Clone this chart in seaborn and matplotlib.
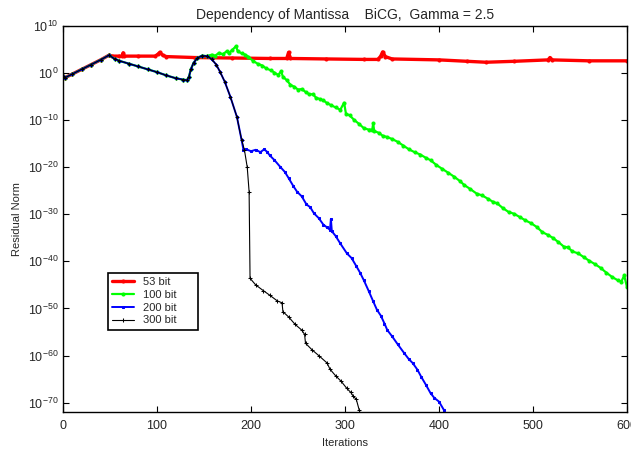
import numpy as np
import pandas as pd
import matplotlib
matplotlib.use("Agg")
import matplotlib.pyplot as plt
from matplotlib.ticker import LogFormatterMathtext, NullLocator
import seaborn as sns

# values (iteration, log10 of residual norm)
rise_iters = [0, 2, 10, 20, 30, 40, 49]
rise_exps = [-0.6, -1.0, -0.2, 0.8, 1.8, 2.8, 3.8]

dip_iters = [55, 60, 70, 80, 90, 100, 110, 120, 128, 132, 134, 136, 139, 143, 148, 153]
dip_exps = [3.0, 2.6, 2.0, 1.4, 0.8, 0.2, -0.5, -1.1, -1.4, -1.5, -0.8, 0.8, 2.2, 3.2, 3.7, 3.6]

fall_iters = [158, 163, 167, 172, 178, 185, 190]
fall_exps = [3.0, 1.8, 0.3, -1.8, -5.0, -9.3, -14.2]

red_tail_iters = [52, 60, 63, 64, 65, 80, 98, 101, 103, 106, 110, 140, 180, 220, 238, 240, 242,
                  280, 320, 335, 338, 340, 343, 350, 400, 430, 450, 480, 516, 518, 520, 560, 600]
red_tail_exps = [3.6, 3.6, 3.6, 4.3, 3.6, 3.6, 3.6, 4.0, 4.4, 3.8, 3.5, 3.3, 3.2, 3.1, 3.1, 4.4, 3.1,
                 3.0, 2.9, 2.9, 3.6, 4.5, 3.5, 3.0, 2.8, 2.5, 2.3, 2.5, 2.8, 3.3, 2.8, 2.6, 2.6]

green_tail_iters = [155, 158, 162, 166, 170, 174, 177, 180, 184, 186, 190, 194, 197, 202, 207, 212,
                    216, 221, 225, 229, 232, 234, 238, 242, 246, 250, 254, 258, 262, 266, 269, 273,
                    277, 281, 285, 290, 295, 299, 301, 305, 310, 315, 320, 325, 329, 330, 331, 336,
                    340, 345, 350, 356, 362, 368, 374, 380, 386, 391, 397, 403, 410, 416, 422, 427,
                    433, 440, 446, 452, 457, 462, 468, 474, 480, 486, 492, 498, 504, 510, 516, 521,
                    527, 533, 537, 542, 548, 554, 560, 566, 572, 578, 584, 590, 594, 597, 600]
green_tail_exps = [3.7, 3.9, 3.7, 4.3, 4.0, 4.6, 4.3, 4.9, 5.7, 4.6, 4.2, 3.9, 3.5, 2.6, 2.0, 1.6,
                   1.0, 0.6, 0.1, -0.4, 0.4, -0.8, -1.5, -2.5, -2.9, -3.5, -3.4, -4.0, -4.5, -4.5,
                   -5.2, -5.5, -5.8, -6.4, -6.8, -7.3, -7.8, -6.3, -8.6, -9.0, -10.0, -10.8, -11.7,
                   -12.0, -12.0, -10.7, -12.3, -12.7, -13.3, -13.6, -14.0, -14.6, -15.4, -16.2,
                   -16.8, -17.3, -18.0, -18.5, -19.5, -20.3, -21.2, -22.0, -22.9, -23.8, -24.6,
                   -25.6, -26.0, -26.7, -27.3, -27.7, -28.7, -29.5, -29.9, -30.6, -31.3, -31.9,
                   -32.7, -33.8, -34.4, -35.0, -35.9, -36.9, -37.0, -37.9, -38.3, -39.1, -39.9,
                   -40.6, -41.4, -42.4, -43.3, -44.0, -44.3, -43.0, -45.5]

blue_tail_iters = [192, 195, 200, 205, 210, 214, 217, 220, 225, 231, 236, 240, 245, 249, 254, 259,
                   263, 267, 272, 277, 281, 284, 285, 286, 290, 295, 302, 307, 312, 316, 320, 325,
                   330, 334, 338, 342, 345, 350, 356, 363, 368, 372, 377, 381, 386, 391, 395, 400,
                   405, 407]
blue_tail_exps = [-16.3, -16.2, -16.6, -16.3, -16.8, -16.2, -16.7, -17.5, -18.5, -19.9, -21.0,
                  -22.3, -24.0, -25.2, -26.2, -27.9, -28.5, -29.8, -30.8, -32.2, -32.8, -33.3,
                  -31.0, -33.6, -34.6, -36.2, -38.3, -39.3, -41.0, -42.4, -44.0, -46.2, -48.5,
                  -50.3, -51.5, -53.2, -54.6, -55.9, -57.6, -59.5, -60.8, -61.6, -63.0, -64.5,
                  -66.2, -68.0, -69.0, -69.8, -71.5, -73.0]

black_tail_iters = [193, 196, 198, 199, 205, 213, 220, 228, 233, 234, 240, 247, 254, 257, 258, 265,
                    272, 281, 284, 290, 296, 302, 306, 309, 312, 315, 317]
black_tail_exps = [-16.3, -20.0, -25.2, -43.6, -45.0, -46.2, -47.2, -48.4, -48.8, -50.7, -51.8,
                   -53.4, -54.6, -55.5, -57.4, -58.8, -60.0, -61.6, -62.9, -64.3, -65.5, -67.0,
                   -67.8, -68.7, -69.3, -71.5, -73.0]

labels = ["53 bit", "100 bit", "200 bit", "300 bit"]
colors = ["#ff0000", "#00ff00", "#0000ff", "#000000"]

series = {
    "53 bit": (rise_iters + red_tail_iters, rise_exps + red_tail_exps),
    "100 bit": (rise_iters + dip_iters + green_tail_iters, rise_exps + dip_exps + green_tail_exps),
    "200 bit": (rise_iters + dip_iters + fall_iters + blue_tail_iters,
                rise_exps + dip_exps + fall_exps + blue_tail_exps),
    "300 bit": (rise_iters + dip_iters + fall_iters + black_tail_iters,
                rise_exps + dip_exps + fall_exps + black_tail_exps),
}

sns.set_style("ticks")
plt.rcParams["font.family"] = ["Liberation Sans", "DejaVu Sans"]
plt.rcParams["mathtext.fontset"] = "custom"
plt.rcParams["mathtext.rm"] = "Liberation Sans"
plt.rcParams["mathtext.it"] = "Liberation Sans"

fig = plt.figure(figsize=(6.31, 4.49), dpi=100)
ax = fig.add_axes([0.0998, 0.0824, 0.8939, 0.8597])

styles = {
    "53 bit": dict(marker="o", markersize=2.2, linewidth=2.4),
    "100 bit": dict(marker="o", markersize=2.2, linewidth=1.6),
    "200 bit": dict(marker="s", markersize=1.8, linewidth=1.4),
    "300 bit": dict(marker="+", markersize=2.5, linewidth=0.8),
}

for lab, col in zip(labels, colors):
    its, exps = series[lab]
    df = pd.DataFrame({"iteration": its, "residual": 10.0 ** np.array(exps)})
    sns.lineplot(data=df, x="iteration", y="residual", ax=ax, color=col, label=lab,
                 estimator=None, sort=False, markeredgecolor=col, **styles[lab])

ax.set_yscale("log")
ax.set_xlim(0, 600)
ax.set_ylim(1e-72, 1e10)
ax.set_xticks([0, 100, 200, 300, 400, 500, 600])
ax.set_yticks([10.0 ** e for e in range(-70, 11, 10)])
ax.yaxis.set_minor_locator(NullLocator())
ax.yaxis.set_major_formatter(LogFormatterMathtext())
ax.tick_params(direction="in", length=4, width=0.8, labelsize=9, top=True, right=True, color="black")
ax.tick_params(axis="x", pad=6)
for sp in ax.spines.values():
    sp.set_color("black")
    sp.set_linewidth(1.0)

ax.set_title("Dependency of Mantissa    BiCG,  Gamma = 2.5", fontsize=10, pad=5)
ax.set_xlabel("Iterations", fontsize=8, labelpad=4)
ax.set_ylabel("Residual Norm", fontsize=8, labelpad=4)

leg = ax.legend(loc="upper left", bbox_to_anchor=(0.079, 0.219, 0.161, 0.142), mode="expand",
                fontsize=8, fancybox=False, framealpha=1, edgecolor="black", handlelength=2.0,
                borderpad=0.4, labelspacing=0.25, handletextpad=0.8, borderaxespad=0)
leg.get_frame().set_linewidth(1.2)

fig.savefig("out.png", dpi=100)
